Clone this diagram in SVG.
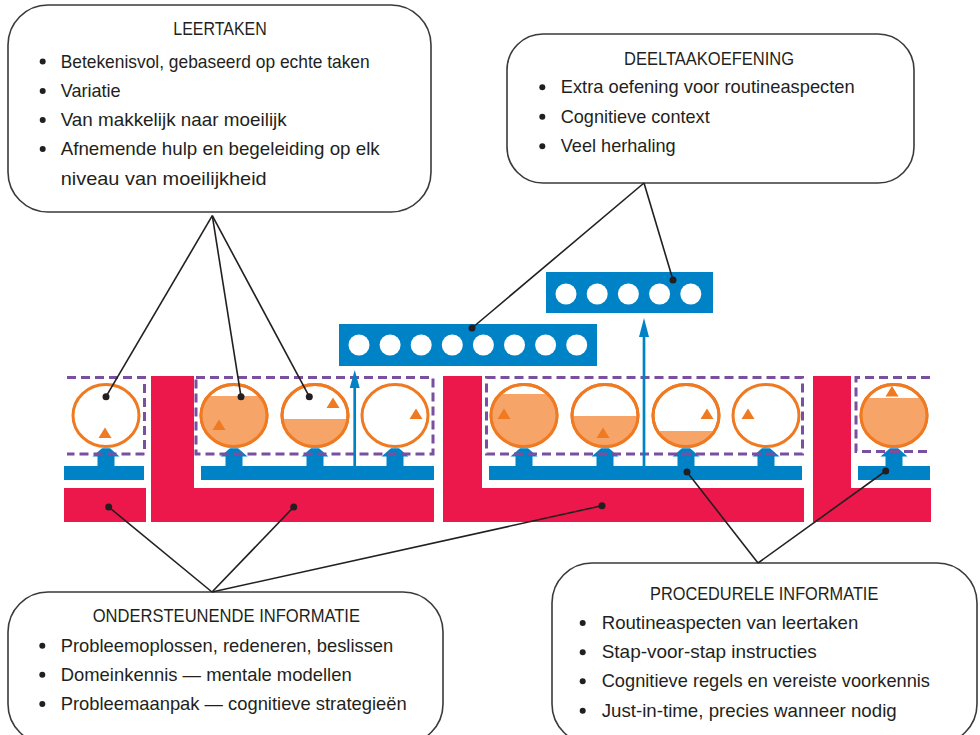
<svg xmlns="http://www.w3.org/2000/svg" xmlns:xlink="http://www.w3.org/1999/xlink" width="980" height="735" viewBox="0 0 980 735">
<style>
.box{fill:#fff;stroke:#3a3a3a;stroke-width:1.6}
.t{font-family:"Liberation Sans Narrow","Liberation Sans",Arial,sans-serif;font-size:19px;fill:#231f20}
.bul{fill:#231f20}
.pink{fill:#ec174b}
.blue{fill:#0083c6}
.dash{fill:none;stroke:#7b4fa0;stroke-width:3;stroke-dasharray:9 5}
.circ{fill:#fff;stroke:#ef7a22;stroke-width:3}
.seg{fill:#f7a468}
.tri{fill:#ef7a22}
.wc{fill:#fff}
.conn line{stroke:#231f20;stroke-width:1.6}
.conn circle{fill:#231f20}
.thin{stroke:#0083c6;stroke-width:2.7}
</style>
<defs>
<polygon id="ba" points="-13.5,456.5 -4,448.3 4,448.3 13.5,456.5 8.5,456.5 8.5,467 -8.5,467 -8.5,456.5"/>
<polygon id="tri" points="0,-5.5 6.5,5 -6.5,5"/>
</defs>

<g id="pink-blocks">
<rect class="pink" x="64" y="488" width="82" height="34"/>
<path class="pink" d="M151,376H194V488H434V522H151Z"/>
<path class="pink" d="M443,376H482V488H804V522H443Z"/>
<path class="pink" d="M813,376H851V488H931V522H813Z"/>
</g>

<g id="blue-bars">
<rect class="blue" x="64" y="466" width="80" height="14"/>
<rect class="blue" x="201" y="466" width="233" height="14"/>
<rect class="blue" x="489" y="466" width="313" height="14"/>
<rect class="blue" x="858" y="466" width="72" height="14"/>
<use href="#ba" class="blue" x="106"/>
<use href="#ba" class="blue" x="234"/>
<use href="#ba" class="blue" x="315"/>
<use href="#ba" class="blue" x="395"/>
<use href="#ba" class="blue" x="524"/>
<use href="#ba" class="blue" x="605"/>
<use href="#ba" class="blue" x="686"/>
<use href="#ba" class="blue" x="766"/>
<use href="#ba" class="blue" x="894"/>
</g>

<g id="dashed-groups">
<path class="dash" d="M67,377.5H144.5V454H67"/>
<rect class="dash" x="196" y="377.5" width="237" height="76.5"/>
<rect class="dash" x="486.5" y="377.5" width="316" height="76.5"/>
<path class="dash" d="M930,377.5H856V451.5H930"/>
</g>

<g id="task-circles">
<ellipse class="circ" cx="106" cy="415.5" rx="33" ry="31"/>
<ellipse class="circ" cx="234" cy="415.5" rx="33" ry="31"/>
<ellipse class="circ" cx="315" cy="415.5" rx="33" ry="31"/>
<ellipse class="circ" cx="395" cy="415.5" rx="33" ry="31"/>
<ellipse class="circ" cx="524" cy="415.5" rx="33" ry="31"/>
<ellipse class="circ" cx="605" cy="415.5" rx="33" ry="31"/>
<ellipse class="circ" cx="686" cy="415.5" rx="33" ry="31"/>
<ellipse class="circ" cx="766" cy="415.5" rx="33" ry="31"/>
<ellipse class="circ" cx="894" cy="415.5" rx="33" ry="31"/>
<path class="seg" d="M208.35,396H259.65A33,31 0 1 1 208.35,396Z"/>
<path class="seg" d="M282.21,419H347.79A33,31 0 0 1 282.21,419Z"/>
<path class="seg" d="M500.23,394H547.77A33,31 0 1 1 500.23,394Z"/>
<path class="seg" d="M572.01,416H637.99A33,31 0 0 1 572.01,416Z"/>
<path class="seg" d="M657.42,431H714.58A33,31 0 0 1 657.42,431Z"/>
<path class="seg" d="M866.76,398H921.24A33,31 0 1 1 866.76,398Z"/>
<g fill="none" stroke="#ef7a22" stroke-width="3">
<ellipse cx="234" cy="415.5" rx="33" ry="31"/>
<ellipse cx="315" cy="415.5" rx="33" ry="31"/>
<ellipse cx="524" cy="415.5" rx="33" ry="31"/>
<ellipse cx="605" cy="415.5" rx="33" ry="31"/>
<ellipse cx="686" cy="415.5" rx="33" ry="31"/>
<ellipse cx="894" cy="415.5" rx="33" ry="31"/>
</g>
<use href="#tri" class="tri" x="105" y="433"/>
<use href="#tri" class="tri" x="219" y="425"/>
<use href="#tri" class="tri" x="333" y="403"/>
<use href="#tri" class="tri" x="416" y="414"/>
<use href="#tri" class="tri" x="504" y="414"/>
<use href="#tri" class="tri" x="603" y="433"/>
<use href="#tri" class="tri" x="707" y="414"/>
<use href="#tri" class="tri" x="748" y="414"/>
<use href="#tri" class="tri" x="892" y="391.5"/>
</g>

<g id="practice-bands">
<rect class="blue" x="339" y="324" width="258" height="42"/>
<circle class="wc" cx="359" cy="345" r="10.5"/>
<circle class="wc" cx="390.1" cy="345" r="10.5"/>
<circle class="wc" cx="421.2" cy="345" r="10.5"/>
<circle class="wc" cx="452.3" cy="345" r="10.5"/>
<circle class="wc" cx="483.4" cy="345" r="10.5"/>
<circle class="wc" cx="514.5" cy="345" r="10.5"/>
<circle class="wc" cx="545.6" cy="345" r="10.5"/>
<circle class="wc" cx="576.7" cy="345" r="10.5"/>
<rect class="blue" x="546" y="272" width="167" height="41"/>
<circle class="wc" cx="566" cy="294" r="10.5"/>
<circle class="wc" cx="597.2" cy="294" r="10.5"/>
<circle class="wc" cx="628.4" cy="294" r="10.5"/>
<circle class="wc" cx="659.6" cy="294" r="10.5"/>
<circle class="wc" cx="690.8" cy="294" r="10.5"/>
</g>

<g id="thin-arrows">
<line class="thin" x1="354.7" y1="467" x2="354.7" y2="386"/>
<polygon class="blue" points="354.7,370 359.7,388 349.7,388"/>
<line class="thin" x1="644" y1="467" x2="644" y2="335"/>
<polygon class="blue" points="644,318 649,337 639,337"/>
</g>

<g id="leertaken">
<rect class="box" x="8" y="5" width="423" height="207" rx="40" ry="40"/>
<text class="t" x="173.3" y="35" textLength="93.4" lengthAdjust="spacingAndGlyphs">LEERTAKEN</text>
<circle class="bul" cx="42.7" cy="61.5" r="3"/>
<text class="t" x="60.7" y="67.5" textLength="309" lengthAdjust="spacingAndGlyphs">Betekenisvol, gebaseerd op echte taken</text>
<circle class="bul" cx="42.7" cy="91" r="3"/>
<text class="t" x="60.7" y="97" textLength="60" lengthAdjust="spacingAndGlyphs">Variatie</text>
<circle class="bul" cx="42.7" cy="120" r="3"/>
<text class="t" x="60.7" y="126" textLength="226" lengthAdjust="spacingAndGlyphs">Van makkelijk naar moeilijk</text>
<circle class="bul" cx="42.7" cy="149" r="3"/>
<text class="t" x="60.7" y="155" textLength="319" lengthAdjust="spacingAndGlyphs">Afnemende hulp en begeleiding op elk</text>
<text class="t" x="60.7" y="184.5" textLength="206" lengthAdjust="spacingAndGlyphs">niveau van moeilijkheid</text>
</g>

<g id="deeltaakoefening">
<rect class="box" x="507" y="34" width="407" height="149" rx="36" ry="36"/>
<text class="t" x="624" y="65" textLength="170" lengthAdjust="spacingAndGlyphs">DEELTAAKOEFENING</text>
<circle class="bul" cx="542.3" cy="87.3" r="3"/>
<text class="t" x="560.7" y="93.3" textLength="294" lengthAdjust="spacingAndGlyphs">Extra oefening voor routineaspecten</text>
<circle class="bul" cx="542.3" cy="116.7" r="3"/>
<text class="t" x="560.7" y="122.7" textLength="149" lengthAdjust="spacingAndGlyphs">Cognitieve context</text>
<circle class="bul" cx="542.3" cy="146.3" r="3"/>
<text class="t" x="560.7" y="152.3" textLength="115" lengthAdjust="spacingAndGlyphs">Veel herhaling</text>
</g>

<g id="ondersteunende-informatie">
<rect class="box" x="8" y="592" width="435" height="152" rx="40" ry="40"/>
<text class="t" x="92.7" y="621.7" textLength="267.3" lengthAdjust="spacingAndGlyphs">ONDERSTEUNENDE INFORMATIE</text>
<circle class="bul" cx="42.3" cy="645.7" r="3"/>
<text class="t" x="60.7" y="651.7" textLength="332.6" lengthAdjust="spacingAndGlyphs">Probleemoplossen, redeneren, beslissen</text>
<circle class="bul" cx="42.3" cy="674.7" r="3"/>
<text class="t" x="60.7" y="680.7" textLength="291" lengthAdjust="spacingAndGlyphs">Domeinkennis — mentale modellen</text>
<circle class="bul" cx="42.3" cy="704" r="3"/>
<text class="t" x="60.7" y="710" textLength="346" lengthAdjust="spacingAndGlyphs">Probleemaanpak — cognitieve strategieën</text>
</g>

<g id="procedurele-informatie">
<rect class="box" x="552" y="563" width="425" height="181" rx="40" ry="40"/>
<text class="t" x="650" y="599.5" textLength="228.3" lengthAdjust="spacingAndGlyphs">PROCEDURELE INFORMATIE</text>
<circle class="bul" cx="582.7" cy="623" r="3"/>
<text class="t" x="601.7" y="629" textLength="256.6" lengthAdjust="spacingAndGlyphs">Routineaspecten van leertaken</text>
<circle class="bul" cx="582.7" cy="652.3" r="3"/>
<text class="t" x="601.7" y="658.3" textLength="215" lengthAdjust="spacingAndGlyphs">Stap-voor-stap instructies</text>
<circle class="bul" cx="582.7" cy="681.3" r="3"/>
<text class="t" x="601.7" y="687.3" textLength="328.3" lengthAdjust="spacingAndGlyphs">Cognitieve regels en vereiste voorkennis</text>
<circle class="bul" cx="582.7" cy="710.7" r="3"/>
<text class="t" x="601.7" y="716.7" textLength="295" lengthAdjust="spacingAndGlyphs">Just-in-time, precies wanneer nodig</text>
</g>

<g id="connectors" class="conn">
<line x1="212.3" y1="215.7" x2="106" y2="396.7"/>
<line x1="212.3" y1="215.7" x2="241" y2="396.7"/>
<line x1="212.3" y1="215.7" x2="309.3" y2="396.7"/>
<circle cx="106" cy="396.7" r="3.5"/>
<circle cx="241" cy="396.7" r="3.5"/>
<circle cx="309.3" cy="396.7" r="3.5"/>
<line x1="644" y1="183" x2="673" y2="280"/>
<line x1="644" y1="183" x2="472" y2="328"/>
<circle cx="673" cy="280" r="3.5"/>
<circle cx="472" cy="328" r="3.5"/>
<line x1="212" y1="592" x2="108.7" y2="507"/>
<line x1="212" y1="592" x2="293.7" y2="507"/>
<line x1="212" y1="592" x2="602" y2="505.7"/>
<circle cx="108.7" cy="507" r="3.5"/>
<circle cx="293.7" cy="507" r="3.5"/>
<circle cx="602" cy="505.7" r="3.5"/>
<line x1="758" y1="563" x2="687" y2="472"/>
<line x1="758" y1="563" x2="885.7" y2="471"/>
<circle cx="687" cy="472" r="3.5"/>
<circle cx="885.7" cy="471" r="3.5"/>
</g>
</svg>
